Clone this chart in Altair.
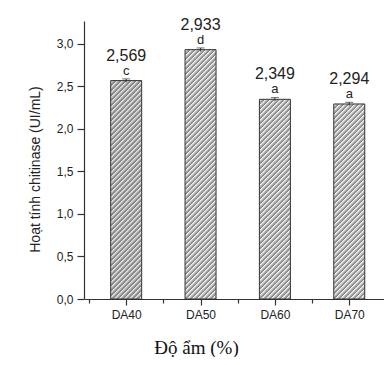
import json
import altair as alt
import pandas as pd

# ---- data ----
categories = ["DA40", "DA50", "DA60", "DA70"]
positions = [1, 2, 3, 4]
values = [2.569, 2.933, 2.349, 2.294]
errors = [0.02, 0.02, 0.02, 0.02]
letters = ["c", "d", "a", "a"]
y_ticks = [0, 0.25, 0.5, 0.75, 1.0, 1.25, 1.5, 1.75, 2.0, 2.25, 2.5, 2.75, 3.0, 3.25]
x_ticks = [0.5, 1, 1.5, 2, 2.5, 3, 3.5, 4]

# ---- layout / style ----
W, H = 300, 278
XMAX = 4.4
YMAX = 3.27
BAR_W = 31
PX = H / YMAX
BG = "#ffffff"
FONT = "Liberation Sans"

df = pd.DataFrame({
    "pos": positions,
    "cat": categories,
    "value": values,
    "err": errors,
    "letter": letters,
})


def hatch(h, w=BAR_W, period=5.0, line=0.9, color="#858585", bg=BG):
    """Diagonal '////' hatching as a linear gradient in bbox units."""
    L = w + h
    gx = (w + h) * w / (w * w + h * h)
    gy = (w + h) * h / (w * w + h * h)
    stops = []
    k = 0
    while k * period < L:
        a = round(k * period / L, 5)
        b = round(min((k * period + line) / L, 1.0), 5)
        stops.append({"offset": a, "color": color})
        stops.append({"offset": b, "color": color})
        stops.append({"offset": b, "color": bg})
        k += 1
    stops.append({"offset": 1.0, "color": bg})
    return {"gradient": "linear", "x1": 0, "y1": 0, "x2": gx, "y2": gy, "stops": stops}


x_scale = alt.Scale(domain=[0.5, XMAX], nice=False, zero=False)
y_scale = alt.Scale(domain=[0, YMAX], nice=False)

cat_js = json.dumps(categories)
x_axis = alt.Axis(
    values=x_ticks,
    labelExpr=f"datum.value % 1 === 0 ? {cat_js}[datum.value - 1] : ''",
    tickSize={"condition": {"test": "datum.value % 1 !== 0", "value": 4}, "value": 6},
    labelOverlap=False,
    labelFlush=False,
    grid=False,
    labelPadding=4,
    labelFontSize=12,
    title="Độ ẩm (%)",
    titleFont="Liberation Serif",
    titleFontSize=19,
    titleFontWeight="normal",
    titleColor="#111",
    titleX=112,
    titleY=54,
    titleBaseline="alphabetic",
    titleAlign="center",
)
y_axis = alt.Axis(
    values=y_ticks,
    labelExpr="datum.value % 0.5 === 0 ? replace(format(datum.value, '.1f'), '.', ',') : ''",
    tickSize={"condition": {"test": "datum.value % 0.5 !== 0", "value": 4}, "value": 7},
    labelOverlap=False,
    labelFlush=False,
    grid=False,
    labelPadding=4,
    labelFontSize=12,
    title="Hoạt tính chitinase (UI/mL)",
    titleFont=FONT,
    titleFontSize=14,
    titleFontWeight="normal",
    titleColor="#222",
    titleX=-45,
    titleY=148,
    titleBaseline="alphabetic",
    titleAlign="center",
    titleAngle=270,
)

base = alt.Chart(df)

bar_layers = []
for i, cat in enumerate(categories):
    h = values[i] * PX
    layer = base.transform_filter(alt.datum.cat == cat).mark_bar(
        size=BAR_W, fill=hatch(h), stroke="#333", strokeWidth=1
    ).encode(
        x=alt.X("pos:Q", scale=x_scale, axis=x_axis),
        y=alt.Y("value:Q", scale=y_scale, axis=y_axis),
    )
    bar_layers.append(layer)

err = base.transform_calculate(
    lo="datum.value - datum.err", hi="datum.value + datum.err"
)
err_rule = err.mark_rule(color="#333", strokeWidth=1).encode(
    x=alt.X("pos:Q", scale=x_scale), y=alt.Y("lo:Q", scale=y_scale), y2="hi:Q"
)
err_cap = err.mark_tick(color="#333", thickness=1, size=8, orient="horizontal").encode(
    x=alt.X("pos:Q", scale=x_scale), y=alt.Y("hi:Q", scale=y_scale)
)

value_text = base.transform_calculate(
    label="replace(format(datum.value, '.3f'), '.', ',')"
).mark_text(
    dy=-20, baseline="alphabetic", font=FONT, fontSize=16, color="#222"
).encode(
    x=alt.X("pos:Q", scale=x_scale), y=alt.Y("value:Q", scale=y_scale), text="label:N"
)
letter_text = base.mark_text(
    dy=-6, baseline="alphabetic", font=FONT, fontSize=13, color="#222"
).encode(
    x=alt.X("pos:Q", scale=x_scale), y=alt.Y("value:Q", scale=y_scale), text="letter:N"
)

chart = alt.layer(*bar_layers, err_rule, err_cap, value_text, letter_text).properties(
    width=W,
    height=H,
    autosize=alt.AutoSizeParams(type="none"),
    padding={"left": 76, "top": 13, "right": 0, "bottom": 58},
    background=BG,
).configure_view(stroke=None).configure_axis(
    domainColor="#333",
    domainWidth=1.2,
    tickColor="#333",
    tickWidth=1.2,
    labelFont=FONT,
    labelColor="#222",
    titleFont=FONT,
)

chart.save("out.html", embed_options={"renderer": "svg", "actions": False})
